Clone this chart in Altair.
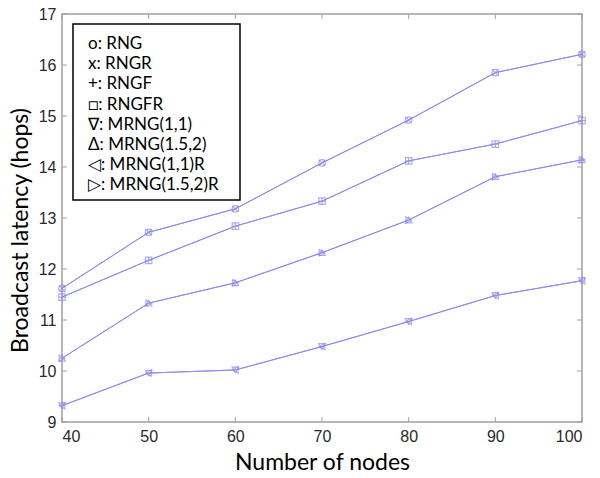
import altair as alt
import pandas as pd

# Broadcast latency (hops) versus number of nodes for each topology-control scheme
nodes = [40, 50, 60, 70, 80, 90, 100]

rng = [11.62, 12.72, 13.18, 14.08, 14.92, 15.85, 16.21]
rngr = [11.62, 12.72, 13.18, 14.08, 14.92, 15.85, 16.21]
rngf = [11.45, 12.17, 12.84, 13.33, 14.12, 14.45, 14.91]
rngfr = [11.45, 12.17, 12.84, 13.33, 14.12, 14.45, 14.91]
mrng_1_1 = [9.32, 9.96, 10.02, 10.48, 10.97, 11.48, 11.77]
mrng_15_2 = [10.25, 11.33, 11.73, 12.32, 12.96, 13.81, 14.14]
mrng_1_1_r = [9.32, 9.96, 10.02, 10.48, 10.97, 11.48, 11.77]
mrng_15_2_r = [10.25, 11.33, 11.73, 12.32, 12.96, 13.81, 14.14]

series_names = ["RNG", "RNGR", "RNGF", "RNGFR",
                "MRNG(1,1)", "MRNG(1.5,2)", "MRNG(1,1)R", "MRNG(1.5,2)R"]
series_values = [rng, rngr, rngf, rngfr,
                 mrng_1_1, mrng_15_2, mrng_1_1_r, mrng_15_2_r]
series_shapes = [
    "circle",
    "M-1,-1L1,1M-1,1L1,-1",   # x
    "M-1,0L1,0M0,-1L0,1",     # +
    "square",
    "triangle-down",
    "triangle-up",
    "triangle-left",
    "triangle-right",
]

legend_lines = ["o: RNG", "x: RNGR", "+: RNGF", "\u25a1: RNGFR",
                "\u2207: MRNG(1,1)", "\u0394: MRNG(1.5,2)",
                "\u25c1: MRNG(1,1)R", "\u25b7: MRNG(1.5,2)R"]

x_ticks = [40, 50, 60, 70, 80, 90, 100]
y_ticks = [9, 10, 11, 12, 13, 14, 15, 16, 17]

rows = []
for name, vals in zip(series_names, series_values):
    for n, v in zip(nodes, vals):
        rows.append({"nodes": n, "latency": v, "scheme": name})
df = pd.DataFrame(rows)

W, H = 520, 408
LINE = "#8c8cee"
FRAME = "#a0a0a0"
TITLE_FONT = "Lato"

x_scale = alt.Scale(domain=[40, 100], nice=False, zero=False)
y_scale = alt.Scale(domain=[9, 17], nice=False, zero=False)

x_enc = alt.X("nodes:Q", scale=x_scale, title="Number of nodes",
              axis=alt.Axis(values=x_ticks, grid=False, domain=False, ticks=False,
                            labelFont="Liberation Sans", labelFontSize=16,
                            labelColor="#2a2a2a", labelPadding=6,
                            titleFont=TITLE_FONT, titleFontSize=23,
                            titleFontWeight="normal", titleColor="#000000",
                            titlePadding=7))
y_enc = alt.Y("latency:Q", scale=y_scale, title="Broadcast latency (hops)",
              axis=alt.Axis(values=y_ticks, grid=False, domain=False, ticks=False,
                            labelFont="Liberation Sans", labelFontSize=16,
                            labelColor="#2a2a2a", labelPadding=6,
                            titleFont=TITLE_FONT, titleFontSize=23,
                            titleFontWeight="normal", titleColor="#000000",
                            titlePadding=6, titleY=216))

base = alt.Chart(df)

lines = base.mark_line(color=LINE, strokeWidth=1).encode(
    x=x_enc, y=y_enc, detail="scheme:N")

points = base.mark_point(color=LINE, filled=False, size=42, strokeWidth=1.2).encode(
    x="nodes:Q", y="latency:Q",
    shape=alt.Shape("scheme:N",
                    scale=alt.Scale(domain=series_names, range=series_shapes),
                    legend=None))

# inward tick marks on all four sides of the box
xt = pd.DataFrame({"nodes": x_ticks})
yt = pd.DataFrame({"latency": y_ticks})
tick_style = dict(color=FRAME, strokeWidth=1)
ticks_bottom = alt.Chart(xt).mark_rule(**tick_style).encode(
    x="nodes:Q", y=alt.value(H), y2=alt.value(H - 5))
ticks_top = alt.Chart(xt).mark_rule(**tick_style).encode(
    x="nodes:Q", y=alt.value(0), y2=alt.value(5))
ticks_left = alt.Chart(yt).mark_rule(**tick_style).encode(
    y="latency:Q", x=alt.value(0), x2=alt.value(5))
ticks_right = alt.Chart(yt).mark_rule(**tick_style).encode(
    y="latency:Q", x=alt.value(W), x2=alt.value(W - 5))

# legend box with marker-key text
legend_box = alt.Chart(pd.DataFrame({"k": [0]})).mark_rect(
    fill="white", stroke="black", strokeWidth=1.5).encode(
    x=alt.value(11), x2=alt.value(178), y=alt.value(10), y2=alt.value(186))
legend_text = alt.Chart(pd.DataFrame({"k": [0]})).mark_text(
    text="\n".join(legend_lines), lineBreak="\n", lineHeight=20.2,
    align="left", baseline="middle", font=TITLE_FONT, fontSize=17,
    color="black").encode(x=alt.value(26), y=alt.value(30))

chart = alt.layer(
    lines, points, ticks_bottom, ticks_top, ticks_left, ticks_right,
    legend_box, legend_text
).properties(
    width=W, height=H,
    autosize=alt.AutoSizeParams(type="none"),
    padding={"left": 62, "top": 14, "right": 18, "bottom": 56},
    background="white",
).configure_view(stroke=FRAME, strokeWidth=1.5)

chart.save("out.html", embed_options={"renderer": "svg", "actions": False})
